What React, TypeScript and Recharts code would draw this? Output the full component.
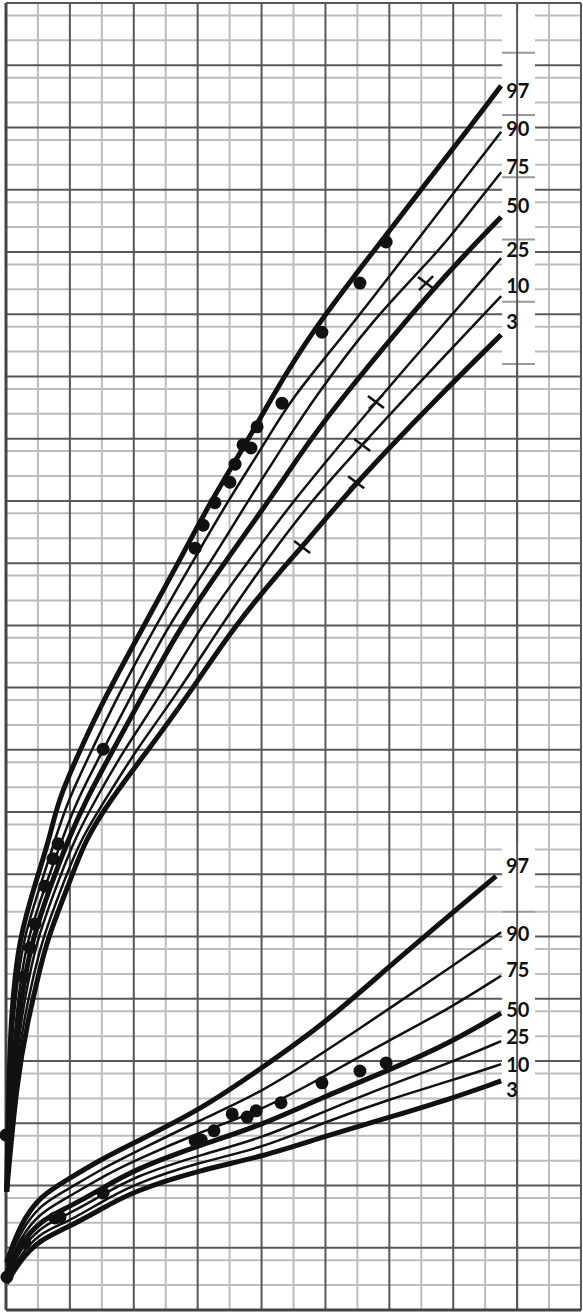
import { ComposedChart, Line, Scatter, XAxis, YAxis, CartesianGrid, ReferenceArea, ReferenceLine } from 'recharts';

// age (years) vs value; upper band = length/height, lower band = weight
const upper97 = [[0.02, 19.0], [0.09, 37.0], [0.16, 46.6], [0.28, 53.5], [0.44, 59.9], [0.88, 68.0], [1.35, 75.5], [1.63, 81.9], [2.32, 90.0], [3.10, 98.5], [4.29, 109.7], [5.39, 120.0], [6.39, 129.8], [7.58, 139.8], [8.27, 146.2], [9.55, 157.1], [11.49, 170.0], [12.99, 180.0], [14.5, 189.9], [15.5, 196.7]];
const upper90 = [[0.02, 19.0], [0.13, 37.0], [0.22, 46.6], [0.38, 53.5], [0.56, 59.9], [1.06, 68.0], [1.53, 75.5], [1.94, 81.9], [2.69, 90.0], [3.48, 98.5], [4.66, 109.7], [5.82, 120.0], [6.92, 129.8], [8.17, 139.8], [8.89, 146.2], [10.65, 157.1], [12.59, 170.0], [14.09, 180.0], [15.5, 189.3]];
const upper75 = [[0.02, 19.0], [0.16, 37.0], [0.31, 46.6], [0.47, 53.5], [0.69, 59.9], [1.22, 68.0], [1.75, 75.5], [2.22, 81.9], [3.04, 90.0], [3.91, 98.5], [5.04, 109.7], [6.39, 120.0], [7.55, 129.8], [8.8, 139.8], [9.61, 146.2], [11.46, 159.1], [13.53, 170.0], [14.31, 175.1], [15.5, 182.8]];
const upper50 = [[0.02, 19.0], [0.19, 37.0], [0.38, 46.6], [0.59, 53.5], [0.85, 59.9], [1.38, 68.0], [1.94, 75.5], [2.5, 81.9], [3.35, 90.0], [4.26, 98.5], [5.45, 109.7], [6.83, 120.0], [8.2, 129.8], [9.52, 139.8], [10.46, 146.2], [13.49, 165.0], [15.5, 175.6]];
const upper25 = [[0.02, 19.0], [0.25, 37.0], [0.47, 46.6], [0.72, 53.5], [1.0, 59.9], [1.57, 68.0], [2.13, 75.5], [2.79, 81.9], [3.69, 90.0], [4.82, 98.5], [6.07, 109.7], [7.55, 120.0], [8.95, 129.8], [11.62, 146.2], [15.5, 169.0]];
const upper10 = [[0.02, 19.0], [0.28, 37.0], [0.56, 46.6], [0.85, 53.5], [1.16, 59.9], [1.75, 68.0], [2.32, 75.5], [3.1, 81.9], [4.07, 90.0], [5.29, 98.5], [6.7, 109.7], [8.08, 120.0], [9.52, 129.8], [11.15, 139.0], [12.43, 146.2], [15.5, 162.9]];
const upper3 = [[0.02, 19.0], [0.34, 37.0], [0.69, 46.6], [1.0, 53.5], [1.31, 59.9], [1.94, 68.0], [2.47, 75.5], [3.26, 81.9], [4.45, 90.0], [5.67, 98.5], [7.11, 109.7], [8.8, 120.0], [9.27, 122.6], [10.96, 133.0], [13.43, 146.2], [15.5, 156.7]];

const lower97 = [[0.02, 7.7], [0.44, 13.7], [1.06, 18.3], [1.91, 20.9], [2.94, 24.1], [3.98, 26.8], [6.07, 32.1], [8.01, 38.9], [9.92, 45.8], [12.02, 55.3], [13.9, 63.5], [15.34, 69.7]];
const lower90 = [[0.02, 7.1], [0.44, 12.5], [1.06, 16.9], [1.91, 19.3], [2.94, 22.5], [3.98, 25.2], [6.07, 30.5], [8.01, 35.0], [9.92, 41.3], [12.02, 48.5], [13.9, 55.0], [15.5, 60.7]];
const lower75 = [[0.02, 6.4], [0.44, 11.6], [1.06, 15.6], [1.91, 18.0], [2.94, 21.2], [3.98, 23.9], [6.07, 28.6], [8.01, 32.1], [9.92, 37.4], [12.02, 43.4], [13.9, 48.5], [15.5, 53.7]];
const lower50 = [[0.02, 5.9], [0.44, 10.6], [1.06, 14.3], [1.91, 16.4], [2.94, 19.3], [3.98, 22.5], [6.07, 26.5], [8.01, 29.7], [9.92, 34.2], [12.02, 38.6], [13.9, 42.9], [15.5, 47.7]];
const lower25 = [[0.02, 5.5], [0.44, 9.6], [1.06, 13.3], [1.91, 15.3], [2.94, 18.2], [3.98, 21.4], [6.07, 24.9], [8.01, 27.6], [9.92, 31.8], [12.02, 36.2], [13.9, 39.7], [15.5, 43.2]];
const lower10 = [[0.02, 5.0], [0.44, 8.8], [1.06, 12.4], [1.91, 14.1], [2.94, 17.2], [3.98, 20.2], [6.07, 23.8], [8.01, 26.0], [9.92, 30.1], [12.02, 33.9], [13.9, 36.8], [15.5, 39.5]];
const lower3 = [[0.02, 4.3], [0.44, 8.0], [1.06, 11.3], [1.91, 13.2], [2.94, 16.1], [3.98, 19.1], [6.07, 22.5], [8.01, 24.6], [9.92, 27.8], [12.02, 31.0], [13.9, 33.9], [15.5, 36.8]];

const upperDots = [[0.0, 28.1], [0.22, 36.5], [0.56, 53.5], [0.75, 58.2], [0.91, 62.0], [1.22, 68.1], [1.47, 72.5], [1.63, 74.9], [3.04, 90.1], [5.92, 122.4], [6.17, 126.1], [6.54, 129.7], [7.01, 133.0], [7.17, 135.9], [7.42, 139.0], [7.67, 138.5], [7.86, 141.9], [8.64, 145.7], [9.89, 157.1], [11.08, 165.0], [11.9, 171.6]];
const upperCrosses = [[9.27, 122.6], [10.96, 133.0], [11.15, 139.0], [11.58, 145.9], [13.15, 165.0]];
const lowerDots = [[0.03, 5.3], [0.19, 7.7], [0.59, 10.8], [1.53, 14.8], [1.69, 14.9], [3.04, 18.8], [5.92, 27.2], [6.11, 27.3], [6.51, 28.8], [7.08, 31.5], [7.55, 31.0], [7.83, 32.0], [8.61, 33.3], [9.89, 36.5], [11.08, 38.4], [11.9, 39.7]];

const percentiles = ['97', '90', '75', '50', '25', '10', '3'];

const toPoints = (arr: number[][]) => arr.map(([age, value]) => ({ age, value }));

const INK = '#111';
const MAJOR = '#585858';
const MINOR = '#bdbdbd';

// line width and label offsets per percentile
const upperSeries = [
  { data: upper97, w: 5, dx: 5, dy: 4 },
  { data: upper90, w: 2.5, dx: 5, dy: -4 },
  { data: upper75, w: 2.5, dx: 5, dy: -6 },
  { data: upper50, w: 5, dx: 5, dy: -12 },
  { data: upper25, w: 2.5, dx: 5, dy: -9 },
  { data: upper10, w: 2.5, dx: 5, dy: -11 },
  { data: upper3, w: 5, dx: 5, dy: -14 },
];
const lowerSeries = [
  { data: lower97, w: 5, dx: 10, dy: -11 },
  { data: lower90, w: 2.5, dx: 5, dy: 1 },
  { data: lower75, w: 2.5, dx: 5, dy: -7 },
  { data: lower50, w: 5, dx: 5, dy: -4 },
  { data: lower25, w: 2.5, dx: 5, dy: -5 },
  { data: lower10, w: 2.5, dx: 5, dy: 0 },
  { data: lower3, w: 5, dx: 5, dy: 8 },
];

const majorX = Array.from({ length: 10 }, (_, i) => i * 2);
const minorX = Array.from({ length: 9 }, (_, i) => i * 2 + 1);
const majorY = Array.from({ length: 22 }, (_, i) => i * 10);
const minorY = Array.from({ length: 106 }, (_, i) => i * 2).filter(v => v % 10 !== 0);

const labelDashes = [202, 192, 182, 172, 162, 152, 64];

const Dot = (props: any) => <circle cx={props.cx} cy={props.cy} r={6.5} fill={INK} />;
const Cross = (props: any) => (
  <g stroke={INK} strokeWidth={2.5}>
    <line x1={props.cx - 8} y1={props.cy - 6} x2={props.cx + 8} y2={props.cy + 6} />
    <line x1={props.cx - 7} y1={props.cy + 7} x2={props.cx + 7} y2={props.cy - 7} />
  </g>
);

const renderSeries = (series: typeof upperSeries, prefix: string) =>
  series.map((s, i) => {
    const last = s.data.length - 1;
    return (
      <Line
        key={prefix + i}
        data={toPoints(s.data)}
        dataKey="value"
        type="basis"
        stroke={INK}
        strokeWidth={s.w}
        dot={false}
        activeDot={false}
        isAnimationActive={false}
        label={(p: any) =>
          p.index === last ? (
            <text x={p.x + s.dx} y={p.y + s.dy} dominantBaseline="central" fontFamily="Lato, 'Open Sans', sans-serif" fontWeight={700} fontSize={20} fill={INK}>
              {percentiles[i]}
            </text>
          ) : <g />
        }
      />
    );
  });

export default function App() {
  return (
    <div style={{ position: 'absolute', left: 0, top: 0, width: 583, height: 1313, background: '#fff' }}>
      <ComposedChart width={583} height={1313} margin={{ top: 3, right: 2, bottom: 3, left: 6 }}>
        <XAxis dataKey="age" type="number" domain={[0, 18]} hide />
        <YAxis type="number" domain={[0, 210]} hide />
        <CartesianGrid verticalValues={minorX} horizontalValues={minorY} stroke={MINOR} strokeWidth={2} />
        <CartesianGrid verticalValues={majorX} horizontalValues={majorY} stroke={MAJOR} strokeWidth={2} />
        <ReferenceArea x1={15.53} x2={16.56} y1={151} y2={209} fill="#fff" fillOpacity={1} stroke="none" />
        <ReferenceArea x1={15.53} x2={16.56} y1={34.5} y2={75.2} fill="#fff" fillOpacity={1} stroke="none" />
        {labelDashes.map(v => (
          <ReferenceLine key={v} segment={[{ x: 15.53, y: v }, { x: 16.56, y: v }]} stroke="#999" strokeWidth={2} />
        ))}
        <ReferenceLine x={16} stroke={MAJOR} strokeWidth={2} />
        <ReferenceLine x={0} stroke="#444" strokeWidth={3} />
        <ReferenceLine y={0} stroke="#444" strokeWidth={3} />
        {renderSeries(upperSeries, 'u')}
        {renderSeries(lowerSeries, 'l')}
        <Scatter data={toPoints(upperDots)} dataKey="value" shape={Dot} isAnimationActive={false} />
        <Scatter data={toPoints(lowerDots)} dataKey="value" shape={Dot} isAnimationActive={false} />
        <Scatter data={toPoints(upperCrosses)} dataKey="value" shape={Cross} isAnimationActive={false} />
      </ComposedChart>
    </div>
  );
}
